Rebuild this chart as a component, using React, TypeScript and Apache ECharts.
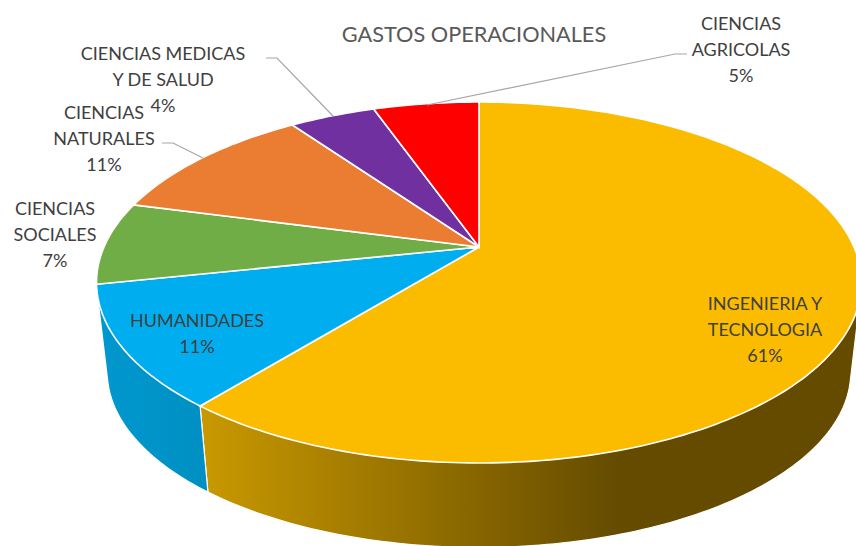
import React, { useEffect, useRef } from "react";
import * as echarts from "echarts";

const categories = ["INGENIERIA Y\nTECNOLOGIA", "HUMANIDADES", "CIENCIAS\nSOCIALES", "CIENCIAS\nNATURALES", "CIENCIAS MEDICAS\nY DE SALUD", "CIENCIAS\nAGRICOLAS"];
const values = [60.85, 10.85, 7.4, 11.1, 4.4, 5.4];
const percentLabels = ["61%", "11%", "7%", "11%", "4%", "5%"];
const colors = ["#FBBC00", "#00AEEF", "#70AD47", "#EB7D32", "#7030A0", "#FF0000"];
const labelCenters = [[765, 329], [197, 333], [55, 234], [104, 138], [163, 79], [741, 49]];
const leaders = [
  [[266, 58], [277, 58], [333, 116]],
  [[162, 143], [173, 143], [203, 158]],
  [[427, 105], [675, 54], [687, 54]],
];

const FONT = "Lato, 'Open Sans', sans-serif";
const APEX_X = 479, APEX_Y = 247, R = 375, S = 173.5, P = 0.1967;
const FLOOR_Y = 337.5, FLOOR_K = 0.972;

const total = values.reduce((a, b) => a + b, 0);
const angleOf = (v: number) => (v / total) * 360;

function project(deg: number, floor: boolean): number[] {
  const t = (deg * Math.PI) / 180;
  const u = Math.sin(t), v = -Math.cos(t), d = 1 - P * v;
  const k = floor ? FLOOR_K : 1;
  return [APEX_X + (k * R * u) / d, (floor ? FLOOR_Y : APEX_Y) + (k * S * v) / d];
}
function arc(a: number, b: number, floor: boolean): number[][] {
  const n = Math.max(2, Math.ceil(Math.abs(b - a)));
  const out: number[][] = [];
  for (let i = 0; i <= n; i++) out.push(project(a + ((b - a) * i) / n, floor));
  return out;
}
function bounds(index: number): [number, number] {
  let s = 0;
  for (let i = 0; i < index; i++) s += values[i];
  return [angleOf(s), angleOf(s + values[index])];
}
// The side wall is the convex hull of the slice's top rim and bottom rim.
function hull(input: number[][]): number[][] {
  const p = input.slice().sort((m, n) => m[0] - n[0] || m[1] - n[1]);
  const cross = (o: number[], m: number[], n: number[]) => (m[0] - o[0]) * (n[1] - o[1]) - (m[1] - o[1]) * (n[0] - o[0]);
  const half = (list: number[][]) => {
    const out: number[][] = [];
    for (const q of list) {
      while (out.length >= 2 && cross(out[out.length - 2], out[out.length - 1], q) <= 0) out.pop();
      out.push(q);
    }
    out.pop();
    return out;
  };
  return half(p).concat(half(p.slice().reverse()));
}

const wallFills: any[] = [
  { type: "linear", x: 205, y: 0, x2: 620, y2: 0, global: true, colorStops: [{ offset: 0, color: "#C89800" }, { offset: 1, color: "#644B00" }] },
  { type: "linear", x: 100, y: 0, x2: 207, y2: 0, global: true, colorStops: [{ offset: 0, color: "#0098CF" }, { offset: 1, color: "#008FC2" }] },
];

export default function App() {
  const ref = useRef<HTMLDivElement>(null);
  useEffect(() => {
    const chart = echarts.init(ref.current!, undefined, { renderer: "svg" });
    const graphics: any[] = [];
    categories.forEach((c, i) => {
      graphics.push({
        type: "text",
        x: labelCenters[i][0],
        y: labelCenters[i][1],
        z: 20,
        style: { text: c + "\n" + percentLabels[i], font: `18px ${FONT}`, lineHeight: 26, fill: "#404040", align: "center", verticalAlign: "middle" },
      });
    });
    leaders.forEach((pts) => {
      graphics.push({ type: "polyline", z: 15, shape: { points: pts }, style: { stroke: "#A6A6A6", lineWidth: 1.2, fill: "none" } });
    });
    chart.setOption({
      animation: false,
      backgroundColor: "#fff",
      title: {
        text: "GASTOS OPERACIONALES",
        left: 469,
        top: 29,
        textAlign: "center",
        textVerticalAlign: "middle",
        textStyle: { fontFamily: FONT, fontSize: 21.7, fontWeight: "normal", color: "#595959" },
      },
      graphic: graphics,
      series: [
        {
          type: "custom",
          coordinateSystem: "none",
          z: 1,
          data: values,
          renderItem: (params: any) => {
            const fill = wallFills[params.dataIndex];
            if (!fill) return null;
            const [a, b] = bounds(params.dataIndex);
            const start = Math.max(a, 60);
            const pts = hull(arc(start, b, false).concat(arc(start, b, true)));
            return { type: "polygon", shape: { points: pts }, style: { fill, stroke: "#fff", lineWidth: 1.2 } };
          },
        },
        {
          type: "custom",
          coordinateSystem: "none",
          z: 2,
          data: values,
          renderItem: (params: any) => {
            const [a, b] = bounds(params.dataIndex);
            const pts = [[APEX_X, APEX_Y]].concat(arc(a, b, false));
            return { type: "polygon", shape: { points: pts }, style: { fill: colors[params.dataIndex], stroke: "#fff", lineWidth: 1.6 } };
          },
        },
      ],
    });
    return () => chart.dispose();
  }, []);
  return <div ref={ref} style={{ position: "absolute", left: 0, top: 0, width: 856, height: 546 }} />;
}
